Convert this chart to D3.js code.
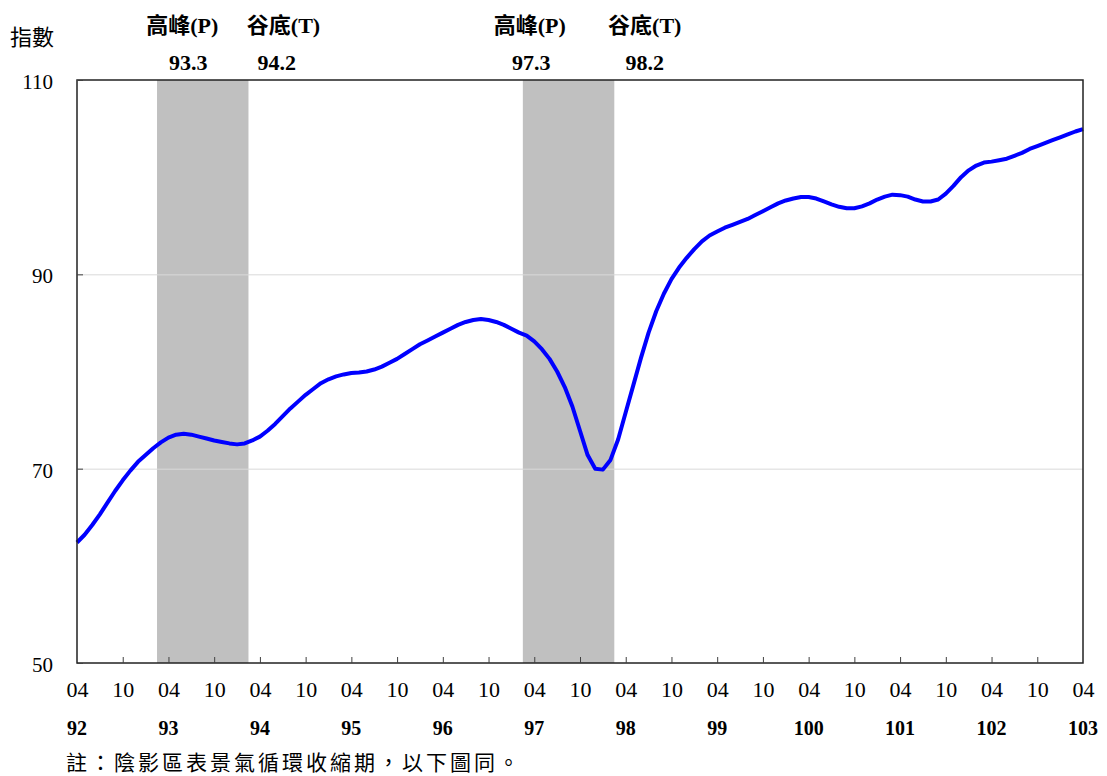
<!DOCTYPE html>
<head>
    <meta charset="UTF-8">
    <title>指數</title>
</head>
<style>
    body { margin: 0; background: #fff; }
    svg { display: block; }
    .num { font-family: "Liberation Serif", "Times New Roman", serif; }
    .cjk { font-family: "Liberation Serif", "Noto Sans CJK TC", serif; }
    .grid line { stroke: #d9d9d9; stroke-width: 1; }
    .grid .domain { display: none; }
    .axis .domain { display: none; }
    .axis line { stroke: #404040; stroke-width: 1; }
</style>
<body>
<script src="https://cdn.jsdelivr.net/npm/d3@7"></script>
<script>
    // 月資料：92年04月 ~ 103年04月
    var startYear = 92, startMonth = 4;
    var values = [
        62.4, 63.2, 64.2, 65.3, 66.5, 67.7, 68.8, 69.8, 70.7, 71.4, 72.1, 72.7,
        73.2, 73.5, 73.6, 73.5, 73.3, 73.1, 72.9, 72.75, 72.6, 72.5, 72.6, 72.9,
        73.3, 73.9, 74.6, 75.4, 76.2, 76.9, 77.6, 78.2, 78.8, 79.2, 79.5, 79.7,
        79.85, 79.9, 80.0, 80.2, 80.5, 80.9, 81.3, 81.8, 82.3, 82.8, 83.2, 83.6,
        84.0, 84.4, 84.8, 85.1, 85.3, 85.4, 85.3, 85.1, 84.8, 84.4, 84.0, 83.7,
        83.1, 82.3, 81.3, 80.0, 78.4, 76.4, 73.9, 71.4, 70.0, 69.9, 70.9, 73.0,
        75.8, 78.6, 81.4, 84.0, 86.2, 88.0, 89.5, 90.7, 91.7, 92.6, 93.4, 94.0,
        94.4, 94.8, 95.1, 95.4, 95.7, 96.1, 96.5, 96.9, 97.3, 97.6, 97.8, 97.95,
        97.95, 97.8, 97.5, 97.2, 96.95, 96.8, 96.8, 97.0, 97.3, 97.7, 98.0, 98.2,
        98.15, 98.0, 97.7, 97.5, 97.5, 97.7, 98.3, 99.1, 100.0, 100.7, 101.2, 101.5,
        101.6, 101.75, 101.9, 102.2, 102.5, 102.9, 103.2, 103.5, 103.8, 104.1, 104.4, 104.7,
        104.95
    ];
    var yTicks = [50, 70, 90, 110];
    var gridTicks = [70, 90];
    var monthLabels = ["04", "10"];
    var yearLabels = ["92", "93", "94", "95", "96", "97", "98", "99", "100", "101", "102", "103"];
    // 景氣循環 高峰 / 谷底
    var peaks = ["93.3", "97.3"];
    var troughs = ["94.2", "98.2"];

    function idx(s) {
        var p = s.split(".");
        return (+p[0] - startYear) * 12 + (+p[1] - startMonth);
    }

    var pL = 77, pR = 1083, pT = 80, pB = 663;
    var n = values.length - 1;

    var svg = d3.select("body").append("svg")
        .attr("width", 1107)
        .attr("height", 776);

    var x = d3.scaleLinear().domain([0, n]).range([pL, pR]);
    var y = d3.scaleLinear().domain([50, 110]).range([pB, pT]);

    // 收縮期陰影
    svg.selectAll("rect.band")
        .data(peaks.map(function(p, i) { return [idx(p), idx(troughs[i])]; }))
        .enter().append("rect")
        .attr("class", "band")
        .attr("x", function(d) { return x(d[0] - 0.5); })
        .attr("width", function(d) { return x(d[1] + 0.5) - x(d[0] - 0.5); })
        .attr("y", pT)
        .attr("height", pB - pT)
        .attr("fill", "#c0c0c0");

    svg.append("g")
        .attr("class", "grid")
        .attr("transform", "translate(" + pL + ",0)")
        .call(d3.axisLeft(y).tickValues(gridTicks).tickSize(-(pR - pL)).tickFormat(""));

    svg.append("path")
        .datum(values)
        .attr("fill", "none")
        .attr("stroke", "#0000ff")
        .attr("stroke-width", 4)
        .attr("stroke-linejoin", "round")
        .attr("d", d3.line()
            .x(function(d, i) { return x(i); })
            .y(function(d) { return y(d); }));

    // 框
    svg.append("rect")
        .attr("x", pL).attr("y", pT)
        .attr("width", pR - pL).attr("height", pB - pT)
        .attr("fill", "none")
        .attr("stroke", "#222")
        .attr("stroke-width", 1.5);

    var yAxis = svg.append("g")
        .attr("class", "axis num")
        .attr("transform", "translate(" + pL + ",0)")
        .call(d3.axisLeft(y).tickValues(yTicks).tickSize(-6).tickPadding(24));
    yAxis.selectAll("text").attr("font-size", 21).attr("fill", "#000").attr("dy", "0.4em").attr("font-family", null);

    var xAxis = svg.append("g")
        .attr("class", "axis num")
        .attr("transform", "translate(0," + pB + ")")
        .call(d3.axisBottom(x).tickValues(d3.range(0, n + 1, 6)).tickSize(-6).tickPadding(18)
            .tickFormat(function(d) { return monthLabels[(d / 6) % 2]; }));
    xAxis.selectAll("text").attr("font-size", 22).attr("fill", "#000").attr("font-family", null);
    xAxis.selectAll(".tick").filter(function(d) { return d === 0 || d === n; }).select("line").remove();

    svg.append("g").selectAll("text")
        .data(yearLabels)
        .enter().append("text")
        .attr("class", "num")
        .attr("x", function(d, i) { return x(i * 12); })
        .attr("y", 735)
        .attr("text-anchor", "middle")
        .attr("font-size", 20)
        .attr("font-weight", "bold")
        .text(function(d) { return d; });

    svg.append("text")
        .attr("class", "cjk")
        .attr("x", 10).attr("y", 45)
        .attr("font-size", 22)
        .text("指數");

    // 高峰 / 谷底 標示
    var heads = [];
    peaks.forEach(function(p, i) {
        heads.push({title: "高峰(P)", date: p, at: idx(p)});
        heads.push({title: "谷底(T)", date: troughs[i], at: idx(troughs[i])});
    });
    var titleShift = [2.8, 5.1, 0.4, 4.5];
    var dateShift = [3.6, 4.2, 0.6, 4.5];
    svg.append("g").selectAll("text")
        .data(heads)
        .enter().append("text")
        .attr("class", "cjk")
        .attr("x", function(d, i) { return x(d.at + titleShift[i]); })
        .attr("y", 33)
        .attr("text-anchor", "middle")
        .attr("font-size", 22)
        .attr("font-weight", "bold")
        .text(function(d) { return d.title; });
    svg.append("g").selectAll("text")
        .data(heads)
        .enter().append("text")
        .attr("class", "num")
        .attr("x", function(d, i) { return x(d.at + dateShift[i]); })
        .attr("y", 70)
        .attr("text-anchor", "middle")
        .attr("font-size", 22)
        .attr("font-weight", "bold")
        .text(function(d) { return d.date; });

    svg.append("text")
        .attr("class", "cjk")
        .attr("x", 66).attr("y", 770)
        .attr("font-size", 21)
        .attr("letter-spacing", 3)
        .text("註：陰影區表景氣循環收縮期，以下圖同。");
</script>
</body>
